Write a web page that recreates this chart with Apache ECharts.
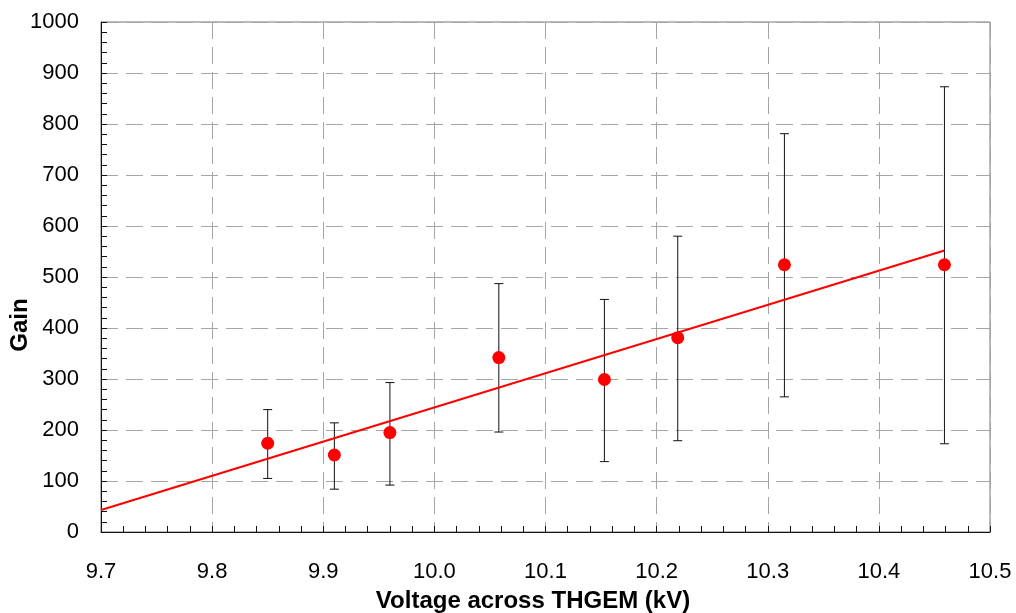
<!DOCTYPE html>
<html>
<head>
<meta charset="utf-8">
<script src="https://cdn.jsdelivr.net/npm/echarts@6/dist/echarts.min.js"></script>
<style>html,body{margin:0;padding:0;background:#fff}#c{width:1016px;height:613px}</style>
</head>
<body>
<div id="c"></div>
<script>
const voltage = [9.85, 9.91, 9.96, 10.058, 10.153, 10.219, 10.315, 10.459];
const gain = [174, 151, 195, 342, 299, 381, 524, 524];
const gainHigh = [240, 214, 293, 487, 456, 580, 781, 873];
const gainLow = [105, 84, 92, 196, 138, 179, 265, 173];
const fitX = [9.7, 10.459];
const fitY = [43, 552];
const xTitle = 'Voltage across THGEM (kV)';
const yTitle = 'Gain';

const chart = echarts.init(document.getElementById('c'));
const font = '"Liberation Sans", Arial, sans-serif';
const pts = voltage.map((v, i) => [v, gain[i]]);
const errs = voltage.map((v, i) => [v, gainLow[i], gainHigh[i]]);
const fit = fitX.map((v, i) => [v, fitY[i]]);

chart.setOption({
  animation: false,
  grid: {left: 101, right: 26, top: 22, bottom: 81, show: true, borderColor: '#777', borderWidth: 1},
  xAxis: {
    type: 'value', min: 9.7, max: 10.5, interval: 0.1,
    axisLine: {onZero: false, lineStyle: {color: '#111', width: 1}},
    axisTick: {inside: true, length: 6, lineStyle: {color: '#111'}},
    minorTick: {show: true, splitNumber: 5, length: 6, lineStyle: {color: '#111'}},
    splitLine: {show: true, lineStyle: {color: '#a5a5a5', type: [17, 8], width: 1}},
    axisLabel: {fontFamily: font, fontSize: 22, color: '#000', margin: 29,
      formatter: v => v.toFixed(1)}
  },
  yAxis: {
    type: 'value', min: 0, max: 1000, interval: 100,
    axisLine: {show: true, lineStyle: {color: '#111', width: 1}},
    axisTick: {show: true, inside: true, length: 6, lineStyle: {color: '#111'}},
    minorTick: {show: true, splitNumber: 5, length: 6, lineStyle: {color: '#111'}},
    splitLine: {show: true, lineStyle: {color: '#a5a5a5', type: [17, 8], width: 1}},
    axisLabel: {fontFamily: font, fontSize: 22, color: '#000', margin: 22,
      formatter: v => String(v)}
  },
  graphic: [
    {type: 'text', x: 533, y: 601, style: {text: xTitle, font: 'bold 24px ' + font, fill: '#000', textAlign: 'center', textVerticalAlign: 'middle'}},
    {type: 'text', x: 20, y: 325, rotation: Math.PI / 2, style: {text: yTitle, font: 'bold 24px ' + font, fill: '#000', textAlign: 'center', textVerticalAlign: 'middle'}}
  ],
  series: [
    {
      type: 'custom', data: errs, z: 2,
      renderItem: (params, api) => {
        const top = api.coord([api.value(0), api.value(2)]);
        const bot = api.coord([api.value(0), api.value(1)]);
        const hw = 4.5;
        const st = {stroke: '#111', lineWidth: 1};
        return {type: 'group', children: [
          {type: 'line', shape: {x1: top[0], y1: top[1], x2: bot[0], y2: bot[1]}, style: st},
          {type: 'line', shape: {x1: top[0] - hw, y1: top[1], x2: top[0] + hw, y2: top[1]}, style: st},
          {type: 'line', shape: {x1: bot[0] - hw, y1: bot[1], x2: bot[0] + hw, y2: bot[1]}, style: st}
        ]};
      }
    },
    {type: 'line', data: fit, symbol: 'none', z: 3, lineStyle: {color: '#ff0000', width: 2}},
    {type: 'scatter', data: pts, symbol: 'circle', symbolSize: 13, z: 4, itemStyle: {color: '#ff0000', opacity: 1}}
  ]
});
</script>
</body>
</html>
